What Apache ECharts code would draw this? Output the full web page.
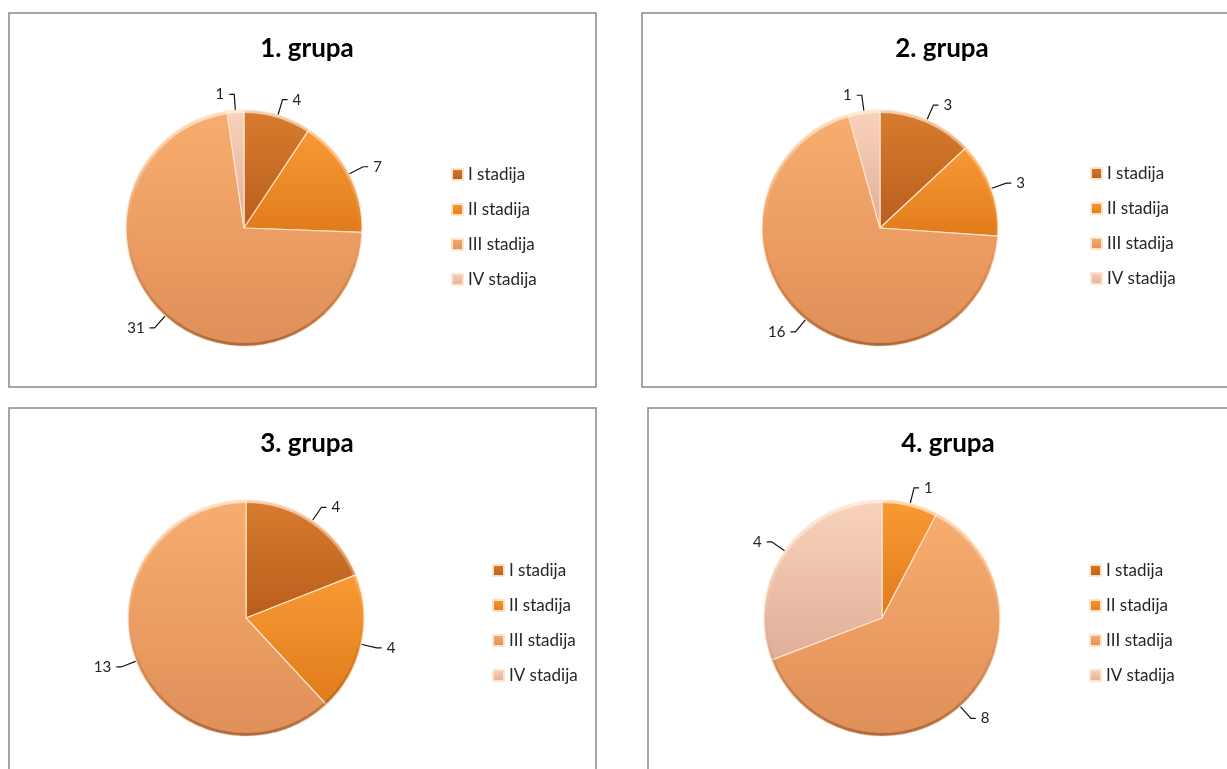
<!DOCTYPE html>
<html>
<head>
<meta charset="utf-8">
<title>Stadiji po grupama</title>
<script src="https://cdn.jsdelivr.net/npm/echarts@6/dist/echarts.min.js"></script>
<style>
  html, body { margin: 0; padding: 0; background: #ffffff; }
  #chart { width: 1227px; height: 769px; }
</style>
</head>
<body>
<div id="chart"></div>
<script>
// Stage names (legend / slice names)
const stages = ['I stadija', 'II stadija', 'III stadija', 'IV stadija'];

// Panel titles
const groupTitles = ['1. grupa', '2. grupa', '3. grupa', '4. grupa'];

// Patient counts per stage, one array per group
const group1 = [4, 7, 31, 1];
const group2 = [3, 3, 16, 1];
const group3 = [4, 4, 13, 0];
const group4 = [0, 1, 8, 4];

const groups = [group1, group2, group3, group4];

// Panel frames, pie centres and legend anchors (pixels)
const panels = [
  { box: [9, 13, 587, 374],   center: [244, 228], titleX: 302, titleY: 31,  legendX: 446,  legendY: 160 },
  { box: [642, 13, 590, 374], center: [880, 228], titleX: 937, titleY: 31,  legendX: 1085, legendY: 159 },
  { box: [9, 408, 587, 380],  center: [246, 618], titleX: 302, titleY: 426, legendX: 487,  legendY: 556 },
  { box: [648, 408, 590, 380],center: [882, 618], titleX: 943, titleY: 426, legendX: 1084, legendY: 556 }
];

const R = 118;

// Slice fills: lighter at the top, deeper at the bottom
function grad(top, bottom) {
  return new echarts.graphic.LinearGradient(0, 0, 0, 1, [
    { offset: 0, color: top },
    { offset: 1, color: bottom }
  ]);
}
const stageColors = [
  grad('#d87c2e', '#b85e1c'),
  grad('#f99a34', '#e07b1c'),
  grad('#f8ad70', '#df8f58'),
  grad('#f9d3bc', '#dfae98')
];

const FONT = 'Lato, "Open Sans", sans-serif';

const series = [];
const titles = [];
const legends = [];
const frames = [];

groups.forEach(function (vals, gi) {
  const p = panels[gi];
  const items = [];
  vals.forEach(function (v, si) {
    if (v > 0) {
      items.push({ name: stages[si], value: v, itemStyle: { color: stageColors[si] } });
    }
  });

  // Main pie
  series.push({
    type: 'pie',
    name: groupTitles[gi],
    center: p.center,
    radius: [0, R],
    startAngle: 90,
    clockwise: true,
    data: items,
    itemStyle: { borderColor: 'rgba(255,228,200,0.95)', borderWidth: 1.2 },
    label: {
      show: true,
      position: 'outside',
      formatter: '{c}',
      fontFamily: FONT,
      fontSize: 15,
      color: '#222'
    },
    labelLine: {
      show: true,
      length: 16,
      length2: 5,
      lineStyle: { color: '#111', width: 1.2 }
    },
    emphasis: { scale: false }
  });

  // Bevelled rim: same slices drawn as a thin outer ring with a light-to-dark shade
  const cy = p.center[1];
  const rimShade = new echarts.graphic.LinearGradient(0, cy - R, 0, cy + R, [
    { offset: 0, color: 'rgba(255,244,228,0.7)' },
    { offset: 0.45, color: 'rgba(255,240,220,0.05)' },
    { offset: 0.6, color: 'rgba(120,60,20,0.04)' },
    { offset: 1, color: 'rgba(110,50,15,0.42)' }
  ], true);
  series.push({
    type: 'pie',
    name: groupTitles[gi] + ' rim',
    center: p.center,
    radius: [R - 3, R],
    startAngle: 90,
    clockwise: true,
    silent: true,
    legendHoverLink: false,
    data: items.map(function (it) {
      return { name: it.name, value: it.value, itemStyle: { color: rimShade } };
    }),
    itemStyle: { borderWidth: 0 },
    label: { show: false },
    labelLine: { show: false },
    emphasis: { disabled: true },
    z: 3
  });

  titles.push({
    text: groupTitles[gi],
    left: p.titleX,
    top: p.titleY,
    textAlign: 'center',
    textStyle: { fontFamily: FONT, fontWeight: 'bold', fontSize: 26, color: '#000' }
  });

  legends.push({
    data: stages,
    orient: 'vertical',
    left: p.legendX,
    top: p.legendY,
    icon: 'rect',
    itemWidth: 11,
    itemHeight: 11,
    itemGap: 16,
    selectedMode: false,
    textStyle: { fontFamily: FONT, fontSize: 17, color: '#262626', lineHeight: 19 }
  });

  frames.push({
    type: 'rect',
    shape: { x: p.box[0], y: p.box[1], width: p.box[2], height: p.box[3] },
    style: { fill: 'none', stroke: '#8a8a8a', lineWidth: 1.5 },
    silent: true,
    z: -10
  });
});

const chart = echarts.init(document.getElementById('chart'), null, { renderer: 'canvas' });
chart.setOption({
  animation: false,
  backgroundColor: '#ffffff',
  title: titles,
  legend: legends,
  graphic: frames,
  series: series
});
</script>
</body>
</html>
